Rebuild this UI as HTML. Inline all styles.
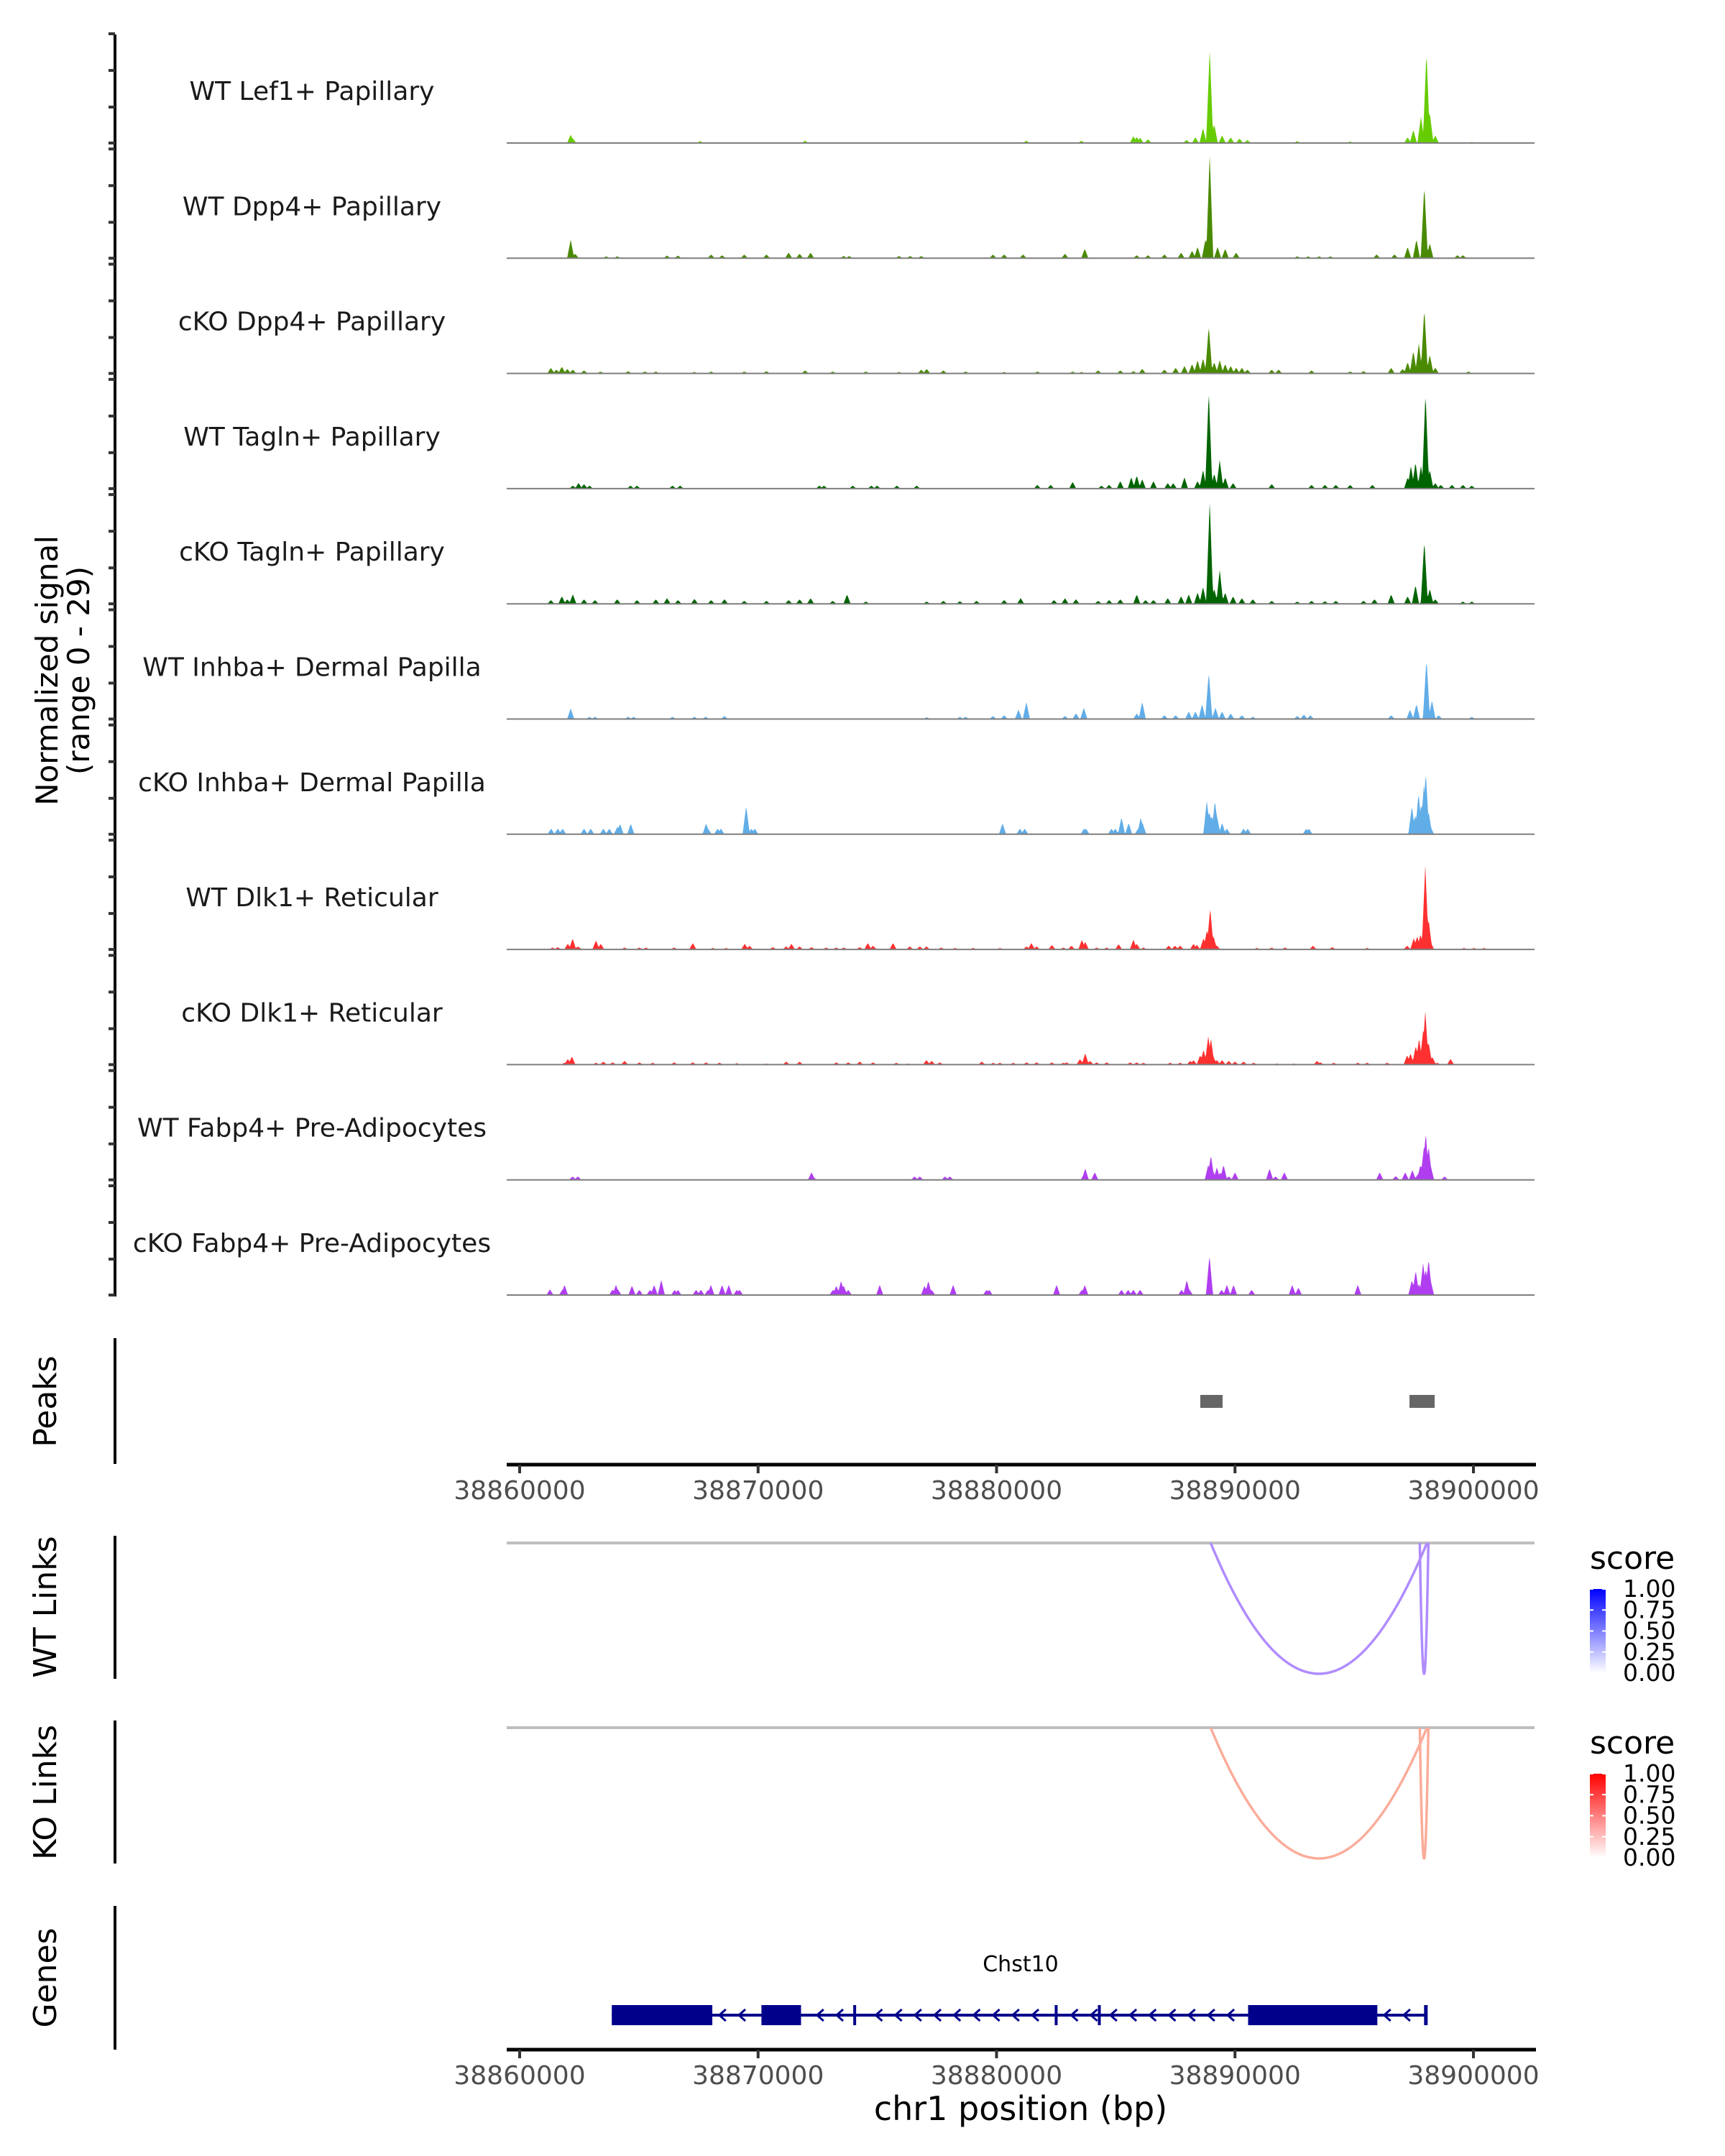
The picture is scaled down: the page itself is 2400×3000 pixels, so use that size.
<!DOCTYPE html>
<html><head><meta charset="utf-8"><style>
html,body{margin:0;padding:0;background:#fff;}
svg{display:block;font-family:"DejaVu Sans","Liberation Sans",sans-serif;}
</style></head><body>
<svg id="chart" width="2400" height="3000" viewBox="0 0 2400 3000" xmlns="http://www.w3.org/2000/svg">
<defs>
<linearGradient id="gradWT" x1="0" y1="1" x2="0" y2="0"><stop offset="0" stop-color="#ffffff"/><stop offset="1" stop-color="#0000ff"/></linearGradient>
<linearGradient id="gradKO" x1="0" y1="1" x2="0" y2="0"><stop offset="0" stop-color="#ffffff"/><stop offset="1" stop-color="#ff0000"/></linearGradient>
</defs>
<g id="tracks"></g>
<line x1="160" y1="48" x2="160" y2="1804" stroke="#000" stroke-width="4"/>
<g id="yticks"></g>
<text transform="translate(80,933) rotate(-90)" text-anchor="middle" font-size="42" fill="#000">Normalized signal</text>
<text transform="translate(124,933) rotate(-90)" text-anchor="middle" font-size="42" fill="#000">(range 0 - 29)</text>

<line x1="160" y1="1862" x2="160" y2="2037" stroke="#000" stroke-width="4"/>
<text transform="translate(78,1950) rotate(-90)" text-anchor="middle" font-size="44" fill="#000">Peaks</text>
<g id="peaks"></g>
<g id="xaxis1"></g>

<line x1="160" y1="2137" x2="160" y2="2336" stroke="#000" stroke-width="4"/>
<text transform="translate(78,2236) rotate(-90)" text-anchor="middle" font-size="44" fill="#000">WT Links</text>
<line x1="160" y1="2394" x2="160" y2="2593" stroke="#000" stroke-width="4"/>
<text transform="translate(78,2494) rotate(-90)" text-anchor="middle" font-size="44" fill="#000">KO Links</text>
<g id="links"></g>

<line x1="160" y1="2652" x2="160" y2="2852" stroke="#000" stroke-width="4"/>
<text transform="translate(78,2752) rotate(-90)" text-anchor="middle" font-size="44" fill="#000">Genes</text>
<g id="genes"></g>
<g id="xaxis2"></g>
<text x="1420" y="2950" text-anchor="middle" font-size="46" fill="#000">chr1 position (bp)</text>
</svg>
<script>
// ---- data ----
const trackNames = ["WT Lef1+ Papillary","WT Dpp4+ Papillary","cKO Dpp4+ Papillary","WT Tagln+ Papillary","cKO Tagln+ Papillary","WT Inhba+ Dermal Papilla","cKO Inhba+ Dermal Papilla","WT Dlk1+ Reticular","cKO Dlk1+ Reticular","WT Fabp4+ Pre-Adipocytes","cKO Fabp4+ Pre-Adipocytes"];
const trackColors = ["#66cc00","#4a8a00","#4a8a00","#006400","#006400","#60ade8","#60ade8","#ff3030","#ff3030","#b03ef0","#b03ef0"];
const regionStart = 38860000;
const signalOrigin = 38859830; // genomic coordinate that the kb positions below are relative to
const xTicks = [38860000,38870000,38880000,38890000,38900000];
const pos0 = [2.31,2.4,7.74,12.14,21.42,23.73,25.91,26.05,26.19,26.52,28.14,28.51,28.83,29.11,29.3,29.63,29.99,30.36,30.69,32.78,37.41,37.65,37.97,38.2,38.34,38.57,35.0,40.1];
const val0 = [2.2,1.2,0.5,0.6,0.6,0.6,1.8,1.6,1.4,1.0,0.8,1.5,4,24.8,5,2,1.5,1.2,0.8,0.5,1.5,3.5,7,24.3,8,2,0.4,0.3];
const pos1 = [2.31,2.5,3.8,4.26,6.35,6.81,8.2,8.66,9.59,10.52,11.45,11.91,12.37,13.76,13.99,16.08,16.55,17.01,20.02,20.49,21.28,23.04,23.87,26.05,26.52,27.21,27.91,28.37,28.6,28.93,29.11,29.44,29.76,30.22,32.78,33.24,33.7,34.17,36.11,36.86,37.41,37.78,38.11,38.34,39.5,39.73];
const val1 = [4.9,1.2,0.5,0.5,0.7,0.7,1,0.8,1,1,1.5,1.2,1.5,0.6,0.6,0.6,0.6,0.6,1,1,1,1.2,2.5,0.8,0.8,1,1.5,2,3,5,27.6,3,2.5,1.5,0.5,0.5,0.5,0.5,1,1,3,5,19.3,4,0.8,0.8];
const pos2 = [1.48,1.71,1.94,2.17,2.4,2.87,3.56,4.72,5.42,5.88,7.5,8.2,9.59,10.52,12.14,13.3,14.69,16.08,17.01,17.24,17.94,18.87,20.49,21.88,23.36,23.73,24.43,25.36,25.91,26.28,27.21,27.68,28.05,28.37,28.6,28.83,29.07,29.3,29.53,29.76,29.99,30.22,30.46,30.69,31.71,32.0,33.38,35.0,35.56,36.72,37.41,37.65,37.88,38.11,38.34,38.57,39.96,37.2];
const val2 = [1.5,1.0,1.8,1.2,1.0,0.8,0.5,0.6,0.5,0.5,0.4,0.5,0.5,0.6,0.8,0.5,0.5,0.4,1.0,1.2,0.8,0.5,0.4,0.5,0.5,0.4,0.8,0.8,0.6,1.2,1.0,1.5,2,2.5,3.5,4,12.6,3,3.5,2.5,2.0,1.5,1.5,1,1.0,1.0,0.8,0.5,0.6,1.5,3,6,8,17.2,5,1.5,0.5,1.2];
const pos3 = [2.4,2.64,2.87,3.1,4.82,5.09,6.58,6.9,12.74,12.93,14.14,14.92,15.16,15.99,16.82,21.88,22.44,23.36,24.57,24.89,25.36,25.82,26.05,26.28,26.75,27.35,27.58,28.05,28.6,28.83,29.07,29.3,29.53,29.76,30.09,31.71,33.38,33.94,34.4,35.0,35.93,37.41,37.55,37.74,37.97,38.16,38.34,38.57,38.8,39.27,39.73,40.1];
const val3 = [0.8,1.5,1.2,0.8,0.8,0.8,0.8,0.8,0.8,0.8,0.8,0.8,0.8,0.8,0.8,1.0,1.0,1.8,0.8,1.0,2,3,3.5,2.5,2,1.5,1.5,3,2,5,26,4,7.6,3,1.5,1.2,1,1,1,1,1,3,6,7,6,25.6,5,1.5,1,1,1,0.8];
const pos4 = [1.48,1.94,2.17,2.4,2.87,3.33,4.26,5.09,5.88,6.35,6.81,7.5,8.2,8.76,9.59,10.52,11.45,11.91,12.37,13.3,13.9,14.69,17.24,17.94,18.63,19.33,20.49,21.18,22.58,23.04,23.5,24.43,24.89,25.36,26.05,26.42,26.75,27.35,27.91,28.23,28.6,28.83,29.11,29.3,29.53,29.76,30.09,30.46,30.92,31.71,32.78,33.38,33.94,34.4,35.56,36.02,36.72,37.41,37.74,38.11,38.34,38.57,39.73,40.1];
const val4 = [1.0,2.0,1.2,2.5,1.2,1.0,1.2,1.0,1.2,1.5,1.0,1.3,1.0,1.2,0.8,0.8,1.0,1.2,1.5,0.8,2.5,0.6,0.6,0.8,0.7,0.8,1.0,1.5,1.0,1.5,1.2,0.8,1.0,1.2,2.5,1.0,1.0,1.5,2,2.5,3,4.5,27.2,4,9,3,2,1.5,1.2,0.8,0.6,0.8,0.7,0.8,0.8,1.2,2.5,2,5,16.8,4,1.2,0.6,0.6];
const pos5 = [2.31,3.1,3.33,4.72,4.95,6.58,7.5,7.97,8.76,17.24,18.63,18.87,20.02,20.49,21.09,21.42,23.04,23.5,23.83,26.05,26.28,27.21,27.68,28.23,28.51,28.79,29.07,29.35,29.63,29.99,30.46,30.92,32.78,33.06,33.33,36.72,37.51,37.78,38.2,38.43,38.71,40.1];
const val5 = [2.8,0.6,0.6,0.6,0.6,0.6,0.6,0.6,0.8,0.5,0.6,0.6,0.8,1.0,2.5,4.5,0.8,1.5,3.0,1.5,4.6,1,1,2,2,4,12.4,3,2,1.5,1,0.6,0.8,1.2,1.0,1.0,2.5,4,16,5,1,0.6];
const pos6 = [1.49,1.77,1.97,2.87,3.15,3.68,3.93,4.27,4.38,4.83,7.99,8.07,8.47,8.61,9.67,9.89,10.03,20.42,21.15,21.35,23.84,23.92,24.99,25.15,25.41,25.71,26.11,26.22,26.3,28.99,29.1,29.19,29.33,29.41,29.63,29.83,30.53,30.7,33.16,33.27,37.59,37.73,37.87,37.98,38.09,38.17,38.29,38.37];
const val6 = [1.5,1.5,1.5,1.5,1.5,1.5,1.5,2.0,2.8,2.8,2.9,1.5,1.5,1.5,7.5,1.5,1.5,2.9,1.5,1.5,1.5,1.5,1.5,1.5,4.5,3.0,1.5,4.5,2.9,9,6,5,9,5,3,1.5,1.5,1.5,1.5,1.5,7.5,5,11,8,13,16.5,6,2];
const pos7 = [1.55,1.77,2.19,2.39,2.61,2.67,3.37,3.57,4.57,5.19,5.47,6.65,7.43,8.27,8.83,9.61,9.81,10.79,11.35,11.57,11.91,12.41,13.03,13.45,13.76,14.43,14.77,14.99,15.83,16.53,16.95,17.23,17.85,18.43,19.19,20.31,21.43,21.63,21.85,22.49,22.97,23.31,23.75,23.89,24.37,24.79,25.29,25.91,26.05,26.33,27.39,27.65,27.87,28.43,28.57,28.85,28.99,29.13,29.27,29.41,31.09,31.71,32.27,33.44,34.25,35.71,37.39,37.67,37.81,37.95,38.15,38.29,38.37,39.77,40.19,40.61];
const val7 = [0.5,0.6,1.5,2.9,0.8,0.5,2.4,1.5,0.5,0.5,0.5,0.5,1.7,0.4,0.4,1.5,1.0,0.6,0.8,1.5,0.8,0.6,0.5,0.5,0.5,0.6,1.7,1.0,1.7,0.8,0.8,0.8,0.5,0.4,0.4,0.4,0.8,1.7,0.8,1.2,0.5,1.0,2.6,2.0,0.5,0.5,1.4,2.6,1.5,0.5,1.0,1.0,1.0,1.5,1.2,3,5,11,3.5,1,0.4,0.5,0.5,1.0,0.6,0.4,1.0,3,3.5,4,22.3,8,2,0.4,0.4,0.4];
const pos8 = [2.05,2.19,2.36,3.37,3.68,4.07,4.57,5.19,5.75,6.65,7.43,7.99,8.55,9.28,10.51,11.35,11.91,13.45,13.95,14.43,14.99,15.97,16.45,17.23,17.45,17.79,19.55,20.03,20.31,20.87,21.43,21.85,22.49,22.97,23.11,23.67,23.89,24.09,24.37,24.79,25.77,26.05,26.33,27.45,27.87,28.29,28.43,28.71,28.85,29.05,29.16,29.27,29.41,29.63,29.91,30.17,30.53,30.95,31.93,32.63,33.61,33.75,34.31,35.32,35.71,36.55,37.39,37.53,37.75,37.89,38.06,38.15,38.29,38.45,38.65,39.21,40.75];
const val8 = [0.5,1.5,2.2,0.5,0.8,0.6,1.0,0.6,0.5,0.6,0.6,0.6,0.5,0.4,0.3,0.8,0.8,0.6,0.6,0.8,0.6,0.5,0.3,1.2,1.0,0.6,0.8,0.5,0.5,0.5,0.6,0.6,0.6,0.5,0.6,1.5,3.0,1.0,0.6,0.6,0.6,0.6,0.5,0.5,0.5,1.0,1.2,2.5,4,7.6,7.0,2,1.2,1.2,1.0,0.8,0.8,0.5,0.3,0.3,1.0,0.6,0.5,0.5,0.5,0.5,2.5,3,5,7,9,14.2,6,2,0.5,1.5,0.2];
const pos9 = [2.39,2.61,12.41,12.47,16.73,16.95,18.01,18.21,23.84,23.89,24.29,29.05,29.16,29.27,29.41,29.55,29.69,29.91,30.17,31.62,31.87,32.24,36.24,36.91,37.31,37.61,37.84,37.95,38.09,38.17,38.29,38.37,38.96];
const val9 = [0.9,0.9,2.0,0.9,0.9,0.9,0.9,0.9,1.5,3.0,2.0,4.0,6.5,2.0,3.3,2.0,4.0,0.9,2.0,3.0,0.9,2.0,2.0,1.0,2.0,2.6,1.5,4.0,8.5,12.5,9,4,0.9];
const pos10 = [1.44,1.97,2.05,4.07,4.21,4.29,4.88,5.19,5.64,5.81,6.11,6.67,6.81,7.57,7.77,8.07,8.19,8.66,8.94,9.28,9.39,13.31,13.45,13.65,13.76,13.95,15.27,17.15,17.31,17.45,18.35,19.75,19.86,22.69,23.75,23.87,25.41,25.69,25.91,26.19,27.93,28.15,28.26,29.1,29.61,29.83,30.11,30.87,32.57,32.83,35.32,37.59,37.75,37.89,38.06,38.17,38.29,38.37];
const val10 = [1.5,1.5,2.7,1.5,2.7,1.5,2.5,1.4,1.4,2.7,4.0,1.4,1.4,1.4,1.4,1.4,2.7,2.7,2.7,1.4,1.4,1.4,2.5,3.8,2.5,1.4,2.7,2.5,3.8,1.4,2.7,1.4,1.4,2.7,1.4,2.7,1.4,1.4,1.4,1.4,1.4,4.0,1.4,10.5,1.4,2.7,2.7,1.4,2.7,2.0,2.7,4.0,6.5,3,8.5,7,9.5,4];
const trackPos = [pos0,pos1,pos2,pos3,pos4,pos5,pos6,pos7,pos8,pos9,pos10];
const trackVal = [val0,val1,val2,val3,val4,val5,val6,val7,val8,val9,val10];
const peakStart = [38888545,38897318];
const peakEnd = [38889480,38898373];
const wtLinkStart = [38888980,38897750];
const wtLinkEnd = [38898050,38898110];
const wtLinkScore = [0.45,0.45];
const koLinkStart = [38888980,38897750];
const koLinkEnd = [38898050,38898110];
const koLinkScore = [0.45,0.45];
const legendTicks = ["1.00","0.75","0.50","0.25","0.00"];
const exonStart = [38863864,38870140,38873990,38882440,38884250,38890550,38897930];
const exonEnd = [38868080,38871800,38874090,38882540,38884350,38895970,38898080];
const geneStart = 38863864, geneEnd = 38898050, geneName = "Chst10";

// ---- scales ----
const NS = "http://www.w3.org/2000/svg";
const PX0 = 723, PXPERBP = 331.75/10000;
const xs = bp => PX0 + (bp - regionStart) * PXPERBP;
const LEFT = 705, RIGHT = 2137;
const baseY = i => 199 + 160.3*i;
const UNIT = 152/29;
function mk(tag, attrs, parent){const e=document.createElementNS(NS,tag);for(const k in attrs)e.setAttribute(k,attrs[k]);parent.appendChild(e);return e;}

// ---- signal tracks ----
const gT = document.getElementById('tracks');
const gY = document.getElementById('yticks');
const HW = 0.15; // kb half-width
trackNames.forEach((name,i)=>{
  const b = baseY(i);
  const P = trackPos[i], V = trackVal[i], n = Math.min(P.length,V.length);
  let d = `M${LEFT},${b}`;
  for(let px=LEFT; px<=RIGHT-2; px+=1){
    const kb = ((px - PX0)/PXPERBP + regionStart - signalOrigin)/1000;
    let v = 0;
    for(let k=0;k<n;k++){const dd=Math.abs(kb-P[k]); if(dd<HW){const t=V[k]*(1-dd/HW); if(t>v)v=t;}}
    d += `L${px},${(b - v*UNIT).toFixed(1)}`;
  }
  d += `L${RIGHT-2},${b}Z`;
  const p = mk('path',{d:d,fill:trackColors[i],stroke:'none'},gT);
  
  
  const ln = mk('line',{x1:LEFT,y1:b,x2:RIGHT-2,y2:b,stroke:'#7f7f7f','stroke-width':2},gT);
  
  
  const t = mk('text',{x:434,y:b-60,'text-anchor':'middle','font-size':36,fill:'#1a1a1a'},gT);
  t.textContent = name;
  
  
  [0,50,101,152].forEach(o=>{
    const tk = mk('line',{x1:151,y1:b-o,x2:160,y2:b-o,stroke:'#333','stroke-width':4},gY);
    
    
  });
});

// ---- peaks ----
const gP = document.getElementById('peaks');
peakStart.forEach((s,i)=>{
  const r = mk('rect',{x:xs(s),y:1941,width:xs(peakEnd[i])-xs(s),height:18,fill:'#666'},gP);
  
  
});

// ---- x axes ----
function xAxis(g, y){
  const l = mk('line',{x1:LEFT,y1:y,x2:RIGHT,y2:y,stroke:'#000','stroke-width':5},g);
  
  
  xTicks.forEach(v=>{
    const x = xs(v);
    const tk = mk('line',{x1:x,y1:y,x2:x,y2:y+12,stroke:'#333','stroke-width':4},g);
    
    
    const tx = mk('text',{x:x,y:y+48,'text-anchor':'middle','font-size':36,fill:'#4d4d4d'},g);
    tx.textContent = String(v);
    
    
  });
}
xAxis(document.getElementById('xaxis1'), 2038);
xAxis(document.getElementById('xaxis2'), 2852);

// ---- links ----
const gL = document.getElementById('links');
function linkPanel(top, starts, ends, scores, hi, grad){
  const l = mk('line',{x1:LEFT,y1:top,x2:RIGHT-2,y2:top,stroke:'#bebebe','stroke-width':4},gL);
  
  
  const depth = 182;
  starts.forEach((s,i)=>{
    const x1 = xs(s), x2 = xs(ends[i]), sc = scores[i];
    const c = `rgb(${Math.round(255+(hi[0]-255)*sc)},${Math.round(255+(hi[1]-255)*sc)},${Math.round(255+(hi[2]-255)*sc)})`;
    const p = mk('path',{d:`M${x1},${top} Q${(x1+x2)/2},${top+2*depth} ${x2},${top}`,fill:'none',stroke:c,'stroke-width':3.5},gL);
    
    
  });
  const tt = mk('text',{x:2212,y:top+36,'font-size':44,fill:'#000'},gL);
  tt.textContent = 'score';
  
  
  const barTop = top+64, barH = 117;
  const r = mk('rect',{x:2212,y:barTop,width:22,height:barH,fill:`url(#${grad})`},gL);
  
  
  legendTicks.forEach((lab,k)=>{
    const y = barTop + k*barH/(legendTicks.length-1);
    const tl = mk('line',{x1:2212,y1:y,x2:2217,y2:y,stroke:'#fff','stroke-width':2},gL);
    
    
    const tl2 = mk('line',{x1:2229,y1:y,x2:2234,y2:y,stroke:'#fff','stroke-width':2},gL);
    
    
    const t = mk('text',{x:2258,y:y+11,'font-size':33,fill:'#000'},gL);
    t.textContent = lab;
    
    
  });
}
linkPanel(2147, wtLinkStart, wtLinkEnd, wtLinkScore, [80,0,255], 'gradWT');
linkPanel(2404, koLinkStart, koLinkEnd, koLinkScore, [245,70,30], 'gradKO');

// ---- gene ----
const gG = document.getElementById('genes');
const gy = 2804, navy = '#00008b';
const gl = mk('line',{x1:xs(geneStart),y1:gy,x2:xs(geneEnd),y2:gy,stroke:navy,'stroke-width':4},gG);


const inExon = x => exonStart.some((s,i)=> x > xs(s)-6 && x < xs(exonEnd[i])+6);
for(let bp=geneStart+4600; bp<geneEnd; bp+=820){
  const x = xs(bp);
  if(inExon(x)) continue;
  const ch = mk('polyline',{points:`${x+6},${gy-8} ${x-3},${gy} ${x+6},${gy+8}`,fill:'none',stroke:navy,'stroke-width':3},gG);
  
  
}
exonStart.forEach((s,i)=>{
  const w = Math.max(4, xs(exonEnd[i])-xs(s));
  const r = mk('rect',{x:xs(s),y:gy-14,width:w,height:28,fill:navy},gG);
  
  
});
const gn = mk('text',{x:1420,y:2743,'text-anchor':'middle','font-size':30,fill:'#000'},gG);
gn.textContent = geneName;


</script>
</body></html>
